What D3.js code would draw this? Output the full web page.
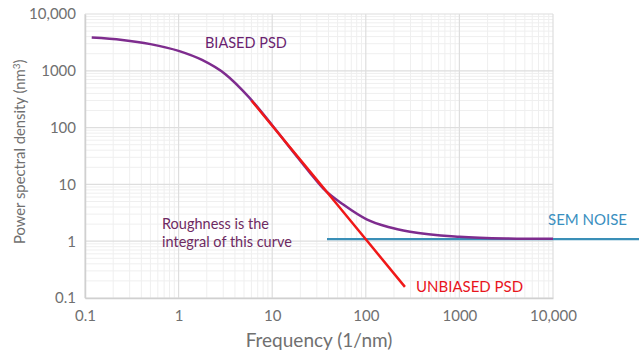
<!DOCTYPE html>
<html>
<head>
<meta charset="utf-8">
<script src="https://cdn.jsdelivr.net/npm/d3@7"></script>
<style>
  body { margin: 0; background: #fff; }
  svg { display: block; font-family: Lato, "Open Sans", sans-serif; }
</style>
</head>
<body>
<div id="chart"></div>
<script>
// values (frequency in 1/nm, PSD in nm^3)
var biasedPsd = [
  [0.118, 3850], [0.25, 3500], [0.5, 2950], [1, 2240], [1.78, 1550],
  [3.16, 870], [5.6, 347], [10, 110], [17.8, 33], [25, 16.4], [35, 8.5],
  [60, 4.2], [102, 2.43], [174, 1.78], [297, 1.47], [1000, 1.2],
  [3160, 1.12], [10000, 1.1]
];
var unbiasedPsd = [[6, 300], [10, 108], [30, 12], [100, 1.08], [262, 0.157]];
var semNoise = [[38.5, 1.09], [90000, 1.09]];

var xTicks = [0.1, 1, 10, 100, 1000, 10000];
var xTickLabels = ['0.1', '1', '10', '100', '1000', '10,000'];
var yTicks = [0.1, 1, 10, 100, 1000, 10000];
var yTickLabels = ['0.1', '1', '10', '100', '1000', '10,000'];

var W = 639, H = 356;
var margin = { top: 14, right: 86, bottom: 58, left: 85 };
var width = W - margin.left - margin.right,
    height = H - margin.top - margin.bottom;

var xScale = d3.scaleLog().domain([0.1, 10000]).range([margin.left, margin.left + width]);
var yScale = d3.scaleLog().domain([0.1, 10000]).range([margin.top + height, margin.top]);

var svg = d3.select('#chart').append('svg').attr('width', W).attr('height', H);

// grid: minor lines first, then decades
var minor = [];
d3.range(-1, 4).forEach(function (e) {
  d3.range(2, 10).forEach(function (m) { minor.push(m * Math.pow(10, e)); });
});
var grid = svg.append('g').classed('grid', true);
grid.selectAll('line.xminor').data(minor).enter().append('line').classed('xminor', true)
  .attr('x1', function (d) { return xScale(d); }).attr('x2', function (d) { return xScale(d); })
  .attr('y1', margin.top).attr('y2', margin.top + height)
  .style('stroke', '#efefef').style('stroke-width', 1);
grid.selectAll('line.yminor').data(minor).enter().append('line').classed('yminor', true)
  .attr('y1', function (d) { return yScale(d); }).attr('y2', function (d) { return yScale(d); })
  .attr('x1', margin.left).attr('x2', margin.left + width)
  .style('stroke', '#efefef').style('stroke-width', 1);
grid.selectAll('line.xmajor').data(xTicks).enter().append('line').classed('xmajor', true)
  .attr('x1', function (d) { return xScale(d); }).attr('x2', function (d) { return xScale(d); })
  .attr('y1', margin.top).attr('y2', margin.top + height)
  .style('stroke', '#dedede').style('stroke-width', 1.2);
grid.selectAll('line.ymajor').data(yTicks).enter().append('line').classed('ymajor', true)
  .attr('y1', function (d) { return yScale(d); }).attr('y2', function (d) { return yScale(d); })
  .attr('x1', margin.left).attr('x2', margin.left + width)
  .style('stroke', '#dedede').style('stroke-width', 1.2);

// axes (labels only)
var xAxis = d3.axisBottom(xScale).tickValues(xTicks).tickSize(0).tickPadding(12)
  .tickFormat(function (d, i) { return xTickLabels[i]; });
var gx = svg.append('g').attr('transform', 'translate(0,' + (margin.top + height) + ')').call(xAxis);
var yAxis = d3.axisLeft(yScale).tickValues(yTicks).tickSize(0).tickPadding(9)
  .tickFormat(function (d, i) { return yTickLabels[i]; });
var gy = svg.append('g').attr('transform', 'translate(' + margin.left + ',0)').call(yAxis);
[gx, gy].forEach(function (g) {
  g.select('.domain').style('stroke', '#d0d0d0').style('stroke-width', 1.5);
  g.selectAll('text').style('font-family', 'Lato, sans-serif').style('font-size', '15px').style('fill', '#707070');
});

var line = d3.line()
  .x(function (d) { return xScale(d[0]); })
  .y(function (d) { return yScale(d[1]); })
  .curve(d3.curveMonotoneX);

svg.append('path').datum(semNoise).attr('d', line)
  .style('fill', 'none').style('stroke', '#3a8fb7').style('stroke-width', 2.2);
svg.append('path').datum(biasedPsd).attr('d', line)
  .style('fill', 'none').style('stroke', '#7e2c8e').style('stroke-width', 2.5);
svg.append('path').datum(unbiasedPsd).attr('d', line)
  .style('fill', 'none').style('stroke', '#f01818').style('stroke-width', 2.5);

// annotations
function note(x, y, txt, color, size) {
  svg.append('text').attr('x', x).attr('y', y).text(txt)
    .style('fill', color).style('font-size', size + 'px');
}
note(205, 48, 'BIASED PSD', '#6a1f70', 14.5);
note(162, 229, 'Roughness is the', '#6e2a62', 14.5);
note(162, 247, 'integral of this curve', '#6e2a62', 14.5);
note(548, 225, 'SEM NOISE', '#3a8fc0', 15);
note(416, 292, 'UNBIASED PSD', '#e8141c', 15);

svg.append('text').attr('x', margin.left + width / 2).attr('y', 347)
  .attr('text-anchor', 'middle').text('Frequency (1/nm)')
  .style('fill', '#707070').style('font-size', '19px');

// y title: start-anchored so the superscript tspan does not shift it
var yTitle = svg.append('text').attr('transform', 'translate(25,244) rotate(-90)')
  .style('fill', '#707070').style('font-size', '14.8px');
yTitle.append('tspan').text('Power spectral density (nm');
yTitle.append('tspan').attr('dy', -5).style('font-size', '10px').text('3');
yTitle.append('tspan').attr('dy', 5).text(')');
</script>
</body>
</html>
